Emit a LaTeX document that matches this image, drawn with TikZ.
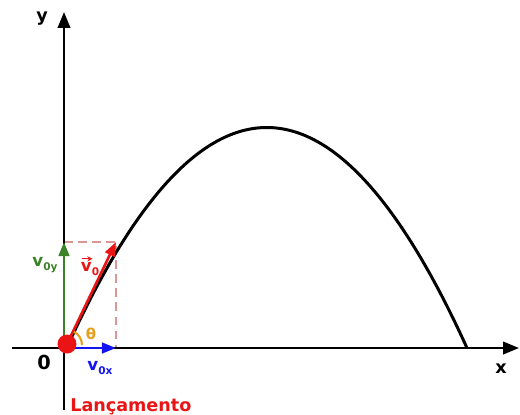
\documentclass[tikz,border=0pt]{standalone}
\usepackage{fontspec}
\setmainfont{DejaVu Sans}
\usetikzlibrary{arrows.meta}
\definecolor{vred}{RGB}{235,20,20}
\definecolor{vgreen}{RGB}{60,130,40}
\definecolor{vblue}{RGB}{20,20,240}
\definecolor{dashpink}{RGB}{220,150,150}
\definecolor{thetaor}{RGB}{230,160,30}
\newcommand{\mysub}[1]{\raisebox{-2.5pt}{\fontsize{6}{6}\selectfont #1}}
\tikzset{
  axis/.style={line width=1.4pt,-{Triangle[width=7pt,length=9pt]}},
  vec/.style={line width=1.5pt,-{Triangle[width=6pt,length=8pt]}},
  lbl/.style={inner sep=0pt,font=\bfseries\fontsize{10}{12}\selectfont},
  vlbl/.style={inner sep=0pt,font=\bfseries\fontsize{9.5}{11}\selectfont}
}
\begin{document}
\begin{tikzpicture}[x={(0.02cm,0)},y={(0,-0.02cm)}]
\useasboundingbox (0,0) rectangle (520,414);
% coordinates
\coordinate (xl) at (12,348);
\coordinate (xr) at (519,348);
\coordinate (yb) at (64,410);
\coordinate (yt) at (64,12);
\coordinate (O) at (67,344);
\coordinate (V) at (116,242);
\coordinate (VY) at (64,242);
\coordinate (VX) at (116,348);
\coordinate (E) at (467,348);
% dashed rectangle
\draw[dashpink,line width=1.2pt,dash pattern=on 5pt off 3pt] (64,242) -- (116,242) -- (116,348);
% axes
\draw[axis] (xl) -- (xr);
\draw[axis] (yb) -- (yt);
% trajectory
\draw[line width=1.7pt] (68,345) .. controls (201,54) and (334,55) .. (E);
% components
\draw[vec,vgreen] (64,345) -- (VY);
\draw[vec,vblue] (67,348) -- (VX);
\draw[vec,vred] (O) -- (V);
% angle
\draw[thetaor,line width=1.2pt] (82,345) arc[start angle=0,end angle=-62,radius=15];
% origin dot
\fill[vred] (O) circle[radius=9.5];
% labels
\node[lbl] (ylab) at (42,19) {y};
\node[lbl] (xlab) at (501,369) {x};
\node[lbl,font=\bfseries\fontsize{11}{12}\selectfont] (zero) at (44,362) {0};
\node[vlbl,vgreen] (vy) at (45,265) {v\mysub{0y}};
\node[vlbl,vred] (v0) at (90,269) {v\mysub{0}};
\draw[vred,line width=0.7pt,-{Stealth[length=3pt,width=3pt]}] ([shift={(1,-3)}]v0.north west) -- ++(11,0);
\node[vlbl,vblue] (vx) at (100,368) {v\mysub{0x}};
\node[inner sep=0pt,font=\bfseries\fontsize{8.5}{9}\selectfont,thetaor] (th) at (91,334) {θ};
\node[lbl,vred,anchor=base west] (lanc) at (70,411) {Lançamento};
\end{tikzpicture}
\end{document}
